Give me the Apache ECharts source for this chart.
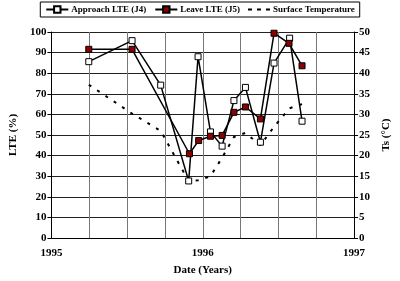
<!DOCTYPE html>
<html>
<head>
<meta charset="utf-8">
<script src="https://cdn.jsdelivr.net/npm/echarts@6/dist/echarts.min.js"></script>
<style>
  html, body { margin: 0; padding: 0; background: #fff; }
  #main { width: 400px; height: 281px; }
</style>
</head>
<body>
<div id="main"></div>
<script>
// dates in decimal years
var approachDates = [1995.247, 1995.533, 1995.722, 1995.907, 1995.969, 1996.051, 1996.128, 1996.206, 1996.282, 1996.381, 1996.471, 1996.574, 1996.656];
var approachLTE = [85.6, 95.8, 74.2, 27.7, 88, 51.5, 44.6, 66.7, 73.1, 46.5, 84.9, 97, 56.7];

var leaveDates = [1995.247, 1995.533, 1995.912, 1995.973, 1996.051, 1996.128, 1996.206, 1996.282, 1996.381, 1996.471, 1996.57, 1996.656];
var leaveLTE = [91.6, 91.6, 40.9, 47.3, 49.4, 49.8, 61, 63.6, 57.8, 99.4, 94.5, 83.6];

var tempDates = [1995.247, 1995.533, 1995.722, 1995.907, 1995.969, 1996.051, 1996.128, 1996.206, 1996.282, 1996.381, 1996.471, 1996.574, 1996.656];
var surfaceTemp = [37.2, 30.2, 26, 13.8, 14, 15, 19.5, 24.5, 25.5, 22.5, 27, 31.5, 32.5];

function pairs(xs, ys) {
    var out = [];
    for (var i = 0; i < xs.length; i++) out.push([xs[i], ys[i]]);
    return out;
}

var font = 'Liberation Serif';
var dashIcon = 'path://M0,4h4v2h-4z M9,4h4v2h-4z M18,4h4v2h-4z';
var myChart = echarts.init(document.getElementById('main'));
var option = {
    animation: false,
    textStyle: { fontFamily: font },
    grid: { left: 39, right: 37, top: 32, bottom: 42 },
    legend: {
        top: 2,
        left: 'center',
        width: 390,
        borderColor: '#000',
        borderWidth: 1,
        padding: [3, 5],
        itemGap: 8,
        itemWidth: 22,
        itemHeight: 8,
        textStyle: { fontFamily: font, fontWeight: 'bold', fontSize: 9, color: '#000', padding: [0, 0, 0, -2] },
        data: ['Approach LTE (J4)', 'Leave LTE (J5)',
            { name: 'Surface Temperature', icon: dashIcon, itemStyle: { color: '#000' } }]
    },
    xAxis: {
        type: 'value',
        min: 1995,
        max: 1997,
        interval: 0.25,
        name: 'Date (Years)',
        nameLocation: 'middle',
        nameGap: 27,
        nameTextStyle: { fontFamily: font, fontWeight: 'bold', fontSize: 11, color: '#000' },
        axisLine: { lineStyle: { color: '#000', width: 1 } },
        axisTick: { show: false },
        axisLabel: {
            fontFamily: font, fontWeight: 'bold', fontSize: 11, color: '#000', margin: 10,
            formatter: function (v) { return Math.abs(v - Math.round(v)) < 1e-6 ? String(Math.round(v)) : ''; }
        },
        splitLine: { show: true, lineStyle: { color: '#777', width: 1 } }
    },
    yAxis: [{
        type: 'value',
        min: 0,
        max: 100,
        interval: 10,
        name: 'LTE (%)',
        nameLocation: 'middle',
        nameGap: 26,
        nameTextStyle: { fontFamily: font, fontWeight: 'bold', fontSize: 11, color: '#000' },
        axisLine: { show: true, lineStyle: { color: '#000' } },
        axisTick: { show: true, length: 4, lineStyle: { color: '#000' } },
        axisLabel: { fontFamily: font, fontWeight: 'bold', fontSize: 11, color: '#000', margin: 5 },
        splitLine: { show: true, lineStyle: { color: '#222', width: 1 } }
    }, {
        type: 'value',
        min: 0,
        max: 50,
        interval: 5,
        name: 'Ts (\u00B0C)',
        nameLocation: 'middle',
        nameGap: 25,
        nameRotate: 90,
        nameTextStyle: { fontFamily: font, fontWeight: 'bold', fontSize: 11, color: '#000' },
        axisLine: { show: true, lineStyle: { color: '#000' } },
        axisTick: { show: true, length: 4, lineStyle: { color: '#000' } },
        axisLabel: { fontFamily: font, fontWeight: 'bold', fontSize: 11, color: '#000', margin: 5 },
        splitLine: { show: false }
    }],
    series: [{
        name: 'Approach LTE (J4)',
        type: 'line',
        data: pairs(approachDates, approachLTE),
        symbol: 'rect',
        symbolSize: 6,
        lineStyle: { color: '#000', width: 1.5 },
        itemStyle: { color: '#fff', borderColor: '#000', borderWidth: 1 },
        z: 3
    }, {
        name: 'Leave LTE (J5)',
        type: 'line',
        data: pairs(leaveDates, leaveLTE),
        symbol: 'rect',
        symbolSize: 6,
        lineStyle: { color: '#000', width: 1.5 },
        itemStyle: { color: '#8b0000', borderColor: '#000', borderWidth: 1 },
        z: 4
    }, {
        name: 'Surface Temperature',
        type: 'line',
        yAxisIndex: 1,
        data: pairs(tempDates, surfaceTemp),
        symbol: 'none',
        lineStyle: { color: '#000', width: 2, type: [3, 7] },
        itemStyle: { color: '#000' },
        z: 2
    }]
};
myChart.setOption(option);
</script>
</body>
</html>
